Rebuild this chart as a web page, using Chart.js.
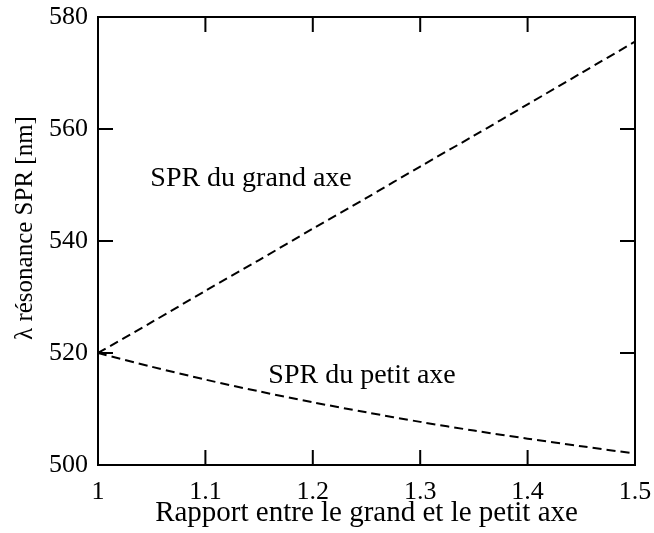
<!DOCTYPE html>
<html>
<head>
<meta charset="utf-8">
<script src="https://cdn.jsdelivr.net/npm/chart.js@4"></script>
<style>
  html, body { margin: 0; padding: 0; background: #fff; }
  #wrap { width: 654px; height: 533px; }
</style>
</head>
<body>
<div id="wrap"><canvas id="chart" width="654" height="533"></canvas></div>
<script>
// Rapport entre le grand et le petit axe
var rapport = [1.0, 1.05, 1.1, 1.15, 1.2, 1.25, 1.3, 1.35, 1.4, 1.45, 1.5];
// SPR du grand axe [nm]
var grandAxe = [520.0, 525.5, 531.1, 536.6, 542.2, 547.7, 553.3, 558.8, 564.4, 570.0, 575.6];
// SPR du petit axe [nm]
var petitAxe = [520.0, 517.55, 515.25, 513.15, 511.2, 509.4, 507.7, 506.15, 504.7, 503.35, 502.05];

var xTicks = [1, 1.1, 1.2, 1.3, 1.4, 1.5];
var yTicks = [500, 520, 540, 560, 580];

// labels placed in data coordinates (left edge, baseline)
var annotations = [
  { text: 'SPR du grand axe', x: 1.0487, y: 549.8 },
  { text: 'SPR du petit axe', x: 1.1586, y: 514.6 }
];
var yTitle = 'λ résonance SPR [nm]';

var serif = "'Liberation Serif', 'Times New Roman', serif";

function toPoints(ys) {
  return rapport.map(function(x, i) { return { x: x, y: ys[i] }; });
}

// box round the plot, inward ticks on all four sides, and text labels
var framePlugin = {
  id: 'frame',
  afterDatasetsDraw: function(chart) {
    var ctx = chart.ctx;
    var a = chart.chartArea;
    var xs = chart.scales.x;
    var ys = chart.scales.y;
    var tl = 15;
    ctx.save();
    ctx.strokeStyle = '#000';
    ctx.lineWidth = 2;
    ctx.strokeRect(a.left, a.top, a.right - a.left, a.bottom - a.top);
    ctx.beginPath();
    xTicks.forEach(function(v) {
      var px = xs.getPixelForValue(v);
      ctx.moveTo(px, a.bottom); ctx.lineTo(px, a.bottom - tl);
      ctx.moveTo(px, a.top); ctx.lineTo(px, a.top + tl);
    });
    yTicks.forEach(function(v) {
      var py = ys.getPixelForValue(v);
      ctx.moveTo(a.left, py); ctx.lineTo(a.left + tl, py);
      ctx.moveTo(a.right, py); ctx.lineTo(a.right - tl, py);
    });
    ctx.stroke();
    ctx.fillStyle = '#000';
    ctx.font = '28px ' + serif;
    ctx.textAlign = 'left';
    ctx.textBaseline = 'alphabetic';
    annotations.forEach(function(t) {
      ctx.fillText(t.text, xs.getPixelForValue(t.x), ys.getPixelForValue(t.y));
    });
    // y axis title, sits a little above the middle in the original
    ctx.translate(25, (a.top + a.bottom) / 2 - 13);
    ctx.rotate(-Math.PI / 2);
    ctx.font = '25px ' + serif;
    ctx.textAlign = 'center';
    ctx.textBaseline = 'middle';
    ctx.fillText(yTitle, 0, 0);
    ctx.restore();
  }
};

var ctx = document.getElementById('chart').getContext('2d');
var chart = new Chart(ctx, {
  type: 'line',
  data: {
    datasets: [{
      label: 'SPR du grand axe',
      data: toPoints(grandAxe),
      borderColor: '#000',
      borderWidth: 2,
      borderDash: [9, 5],
      pointRadius: 0,
      tension: 0.3,
      fill: false
    }, {
      label: 'SPR du petit axe',
      data: toPoints(petitAxe),
      borderColor: '#000',
      borderWidth: 2,
      borderDash: [9, 5],
      pointRadius: 0,
      tension: 0.3,
      fill: false
    }]
  },
  options: {
    responsive: false,
    animation: false,
    layout: { padding: { top: 17, right: 19, left: 0, bottom: 0 } },
    plugins: {
      legend: { display: false },
      tooltip: { enabled: false }
    },
    scales: {
      x: {
        type: 'linear',
        min: 1,
        max: 1.5,
        grid: { display: false, drawTicks: false },
        border: { display: false },
        afterBuildTicks: function(scale) {
          scale.ticks = xTicks.map(function(v) { return { value: v }; });
        },
        afterFit: function(scale) {
          scale.height = 68;
          scale.paddingLeft = 0;
          scale.paddingRight = 0;
        },
        ticks: {
          color: '#000',
          padding: 12,
          maxRotation: 0,
          font: { family: serif, size: 26 },
          callback: function(v) { return String(Number(v.toFixed(2))); }
        },
        title: {
          display: true,
          text: 'Rapport entre le grand et le petit axe',
          color: '#000',
          font: { family: serif, size: 29 },
          padding: { top: 0, bottom: 2 }
        }
      },
      y: {
        min: 500,
        max: 580,
        grid: { display: false, drawTicks: false },
        border: { display: false },
        afterBuildTicks: function(scale) {
          scale.ticks = yTicks.map(function(v) { return { value: v }; });
        },
        afterFit: function(scale) {
          scale.width = 98;
          scale.paddingTop = 0;
          scale.paddingBottom = 0;
        },
        ticks: {
          color: '#000',
          padding: 10,
          font: { family: serif, size: 26 },
          callback: function(v) { return String(v); }
        }
      }
    }
  },
  plugins: [framePlugin]
});
</script>
</body>
</html>
